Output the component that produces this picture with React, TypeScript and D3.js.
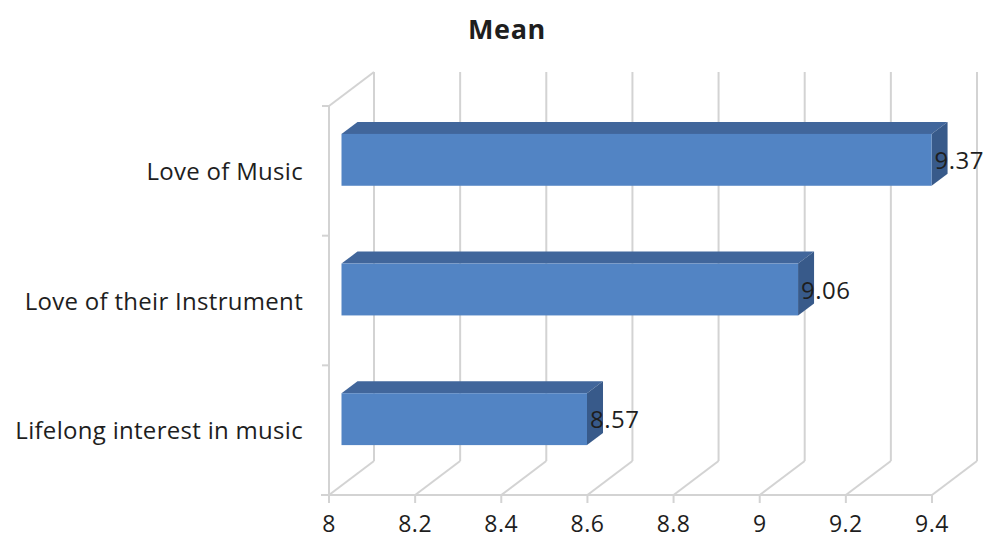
import React from "react";
import * as d3 from "d3";

// Mean ratings per motivation, drawn as an oblique 3D horizontal bar chart
const categories = ["Love of Music", "Love of their Instrument", "Lifelong interest in music"];
const values = [9.37, 9.06, 8.57];
const xTicks = [8, 8.2, 8.4, 8.6, 8.8, 9, 9.2, 9.4];
const title = "Mean";

const W = 990;
const H = 539;

// depth of the chart box (back wall offset) and of each bar
const WALL_DX = 45;
const WALL_DY = -34;
const BAR_OFF_X = 12.5;
const BAR_OFF_Y = -11;
const BAR_DX = 16;
const BAR_DY = -12;

const FRONT_COLOR = "#5284c4";
const TOP_COLOR = "#41669b";
const SIDE_COLOR = "#385a8a";
const GRID = "#d3d3d3";
const TEXT = "#1e1e1e";
const FONT = "'Open Sans', 'Noto Sans', sans-serif";

export default function App() {
  const x = d3.scaleLinear().domain([8, 9.4]).range([329, 932]);
  const y = d3.scaleBand<string>().domain(categories).range([106, 495]).padding(0);
  const bw = y.bandwidth();
  const barH = bw * 0.4;
  const floorY = y.range()[1];
  const topY = y.range()[0];
  const fmt = d3.format("~g");

  const boundaries = [...categories.map((c) => y(c)!), floorY];

  return (
    <svg width={W} height={H} style={{ position: "absolute", left: 0, top: 0, background: "#fff" }}>
      <text x={507} y={39} textAnchor="middle" fontFamily={FONT} fontWeight="bold" fontSize={27} fill={TEXT} letterSpacing={0.6}>
        {title}
      </text>

      {/* back wall gridlines and floor diagonals */}
      <g stroke={GRID} strokeWidth={2} fill="none">
        {xTicks.map((t) => (
          <g key={t}>
            <line x1={x(t) + WALL_DX} y1={topY + WALL_DY} x2={x(t) + WALL_DX} y2={floorY + WALL_DY} />
            <line x1={x(t)} y1={floorY} x2={x(t) + WALL_DX} y2={floorY + WALL_DY} />
            <line x1={x(t)} y1={floorY} x2={x(t)} y2={floorY + 8} />
          </g>
        ))}
        {/* left wall edge */}
        <line x1={x(8)} y1={topY} x2={x(8)} y2={floorY} />
        <line x1={x(8)} y1={topY} x2={x(8) + WALL_DX} y2={topY + WALL_DY} />
        {/* floor front edge */}
        <line x1={x(8) - 8} y1={floorY} x2={x(9.4)} y2={floorY} />
        {boundaries.map((b, i) => (
          <line key={i} x1={x(8) - 7} y1={b} x2={x(8)} y2={b} />
        ))}
      </g>

      {/* bars */}
      {categories.map((c, i) => {
        const v = values[i];
        const x0 = x(8) + BAR_OFF_X;
        const x1 = x(v) + BAR_OFF_X;
        const yc = y(c)! + bw / 2 + BAR_OFF_Y;
        const top = yc - barH / 2;
        const bottom = yc + barH / 2;
        const topFace = [
          [x0, top],
          [x1, top],
          [x1 + BAR_DX, top + BAR_DY],
          [x0 + BAR_DX, top + BAR_DY],
        ];
        const sideFace = [
          [x1, top],
          [x1 + BAR_DX, top + BAR_DY],
          [x1 + BAR_DX, bottom + BAR_DY],
          [x1, bottom],
        ];
        const pts = (p: number[][]) => p.map((q) => q.join(",")).join(" ");
        return (
          <g key={c}>
            <polygon points={pts(topFace)} fill={TOP_COLOR} />
            <polygon points={pts(sideFace)} fill={SIDE_COLOR} />
            <rect x={x0} y={top} width={x1 - x0} height={bottom - top} fill={FRONT_COLOR} />
            <text x={x1 + 3} y={yc + 9} fontFamily={FONT} fontSize={24} fill={TEXT} letterSpacing={0.5}>
              {fmt(v)}
            </text>
          </g>
        );
      })}

      {/* category labels */}
      {categories.map((c) => (
        <text key={c} x={303} y={y(c)! + bw / 2 + 9} textAnchor="end" fontFamily={FONT} fontSize={24} fill={TEXT} letterSpacing={0.3}>
          {c}
        </text>
      ))}

      {/* value axis labels */}
      {xTicks.map((t) => (
        <text key={t} x={x(t)} y={532} textAnchor="middle" fontFamily={FONT} fontSize={23} fill={TEXT} letterSpacing={0.5}>
          {fmt(t)}
        </text>
      ))}
    </svg>
  );
}
